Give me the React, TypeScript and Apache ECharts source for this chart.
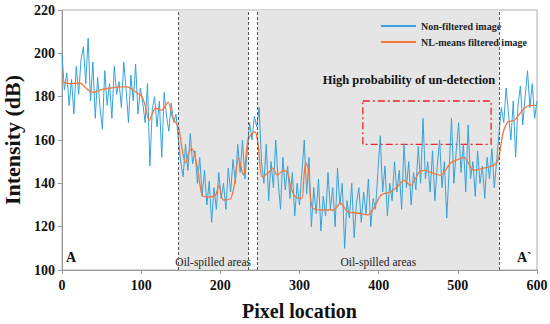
import React, { useEffect, useRef } from "react";
import * as echarts from "echarts";

const nonFiltered: [number, number][] = [
  [0, 200], [3, 183], [6, 191], [9, 176], [12, 188], [15, 172], [18, 194], [21, 181], [24, 197], [27, 203],
  [30, 186], [33, 207], [36, 178], [39, 196], [42, 170], [45, 189], [48, 175], [51, 165], [54, 192], [57, 176],
  [60, 186], [63, 170], [66, 194], [69, 181], [72, 187], [75, 175], [78, 196], [81, 183], [84, 168], [87, 190],
  [90, 178], [93, 195], [96, 172], [99, 184], [102, 177], [105, 168], [108, 186], [111, 148], [114, 174], [117, 180],
  [120, 166], [123, 178], [126, 152], [129, 182], [132, 171], [135, 164], [138, 177], [141, 168], [144, 172], [147, 160],
  [150, 150], [153, 143], [156, 158], [159, 146], [162, 163], [165, 149], [168, 155], [171, 140], [174, 152], [177, 134],
  [180, 146], [183, 130], [186, 141], [189, 122], [192, 138], [195, 128], [198, 145], [201, 133], [204, 140], [207, 128],
  [210, 147], [213, 136], [216, 151], [219, 140], [222, 158], [225, 145], [228, 160], [231, 142], [234, 155], [237, 168],
  [240, 160], [243, 171], [246, 166], [249, 175], [252, 150], [255, 140], [258, 158], [261, 132], [264, 150], [267, 138],
  [270, 160], [273, 141], [276, 128], [279, 152], [282, 137], [285, 148], [288, 133], [291, 145], [294, 125], [297, 140],
  [300, 130], [303, 145], [306, 160], [309, 135], [312, 152], [315, 120], [318, 138], [321, 126], [324, 142], [327, 118],
  [330, 134], [333, 125], [336, 145], [339, 128], [342, 138], [345, 120], [348, 147], [351, 130], [354, 140], [357, 110],
  [360, 132], [363, 124], [366, 140], [369, 115], [372, 131], [375, 138], [378, 122], [381, 136], [384, 126], [387, 142],
  [390, 120], [393, 133], [396, 128], [399, 145], [402, 162], [405, 136], [408, 148], [411, 125], [414, 140], [417, 132],
  [420, 150], [423, 136], [426, 146], [429, 128], [432, 158], [435, 138], [438, 150], [441, 130], [444, 145], [447, 137],
  [450, 157], [453, 140], [456, 170], [459, 142], [462, 150], [465, 136], [468, 155], [471, 132], [474, 148], [477, 160],
  [480, 138], [483, 150], [486, 124], [489, 146], [492, 170], [495, 140], [498, 155], [501, 168], [504, 145], [507, 158],
  [510, 136], [513, 167], [516, 142], [519, 150], [522, 134], [525, 155], [528, 140], [531, 148], [534, 133], [537, 152],
  [540, 142], [543, 156], [546, 138], [549, 150], [552, 163], [555, 175], [558, 168], [561, 184], [564, 172], [567, 160],
  [570, 178], [573, 152], [576, 176], [579, 185], [582, 167], [585, 180], [588, 192], [591, 175], [594, 186], [597, 170],
  [600, 178],
];

const nlMeansFiltered: [number, number][] = [
  [0, 187], [10, 186], [23, 186.3], [30, 184], [39, 182], [52, 183.5], [62, 184], [73, 184.5], [82, 184.5], [95, 181.7],
  [101, 180], [105, 176], [110, 169], [114, 172], [118, 174.7], [126, 173.8], [134, 177.5], [140, 170], [147, 166], [152, 155],
  [156, 149.4], [160, 154], [164, 156], [171, 147.5], [177, 134.6], [185, 133.7], [194, 134.6], [198, 139], [204, 132.3], [213, 133],
  [218, 140], [223, 151.7], [229, 143.8], [235, 160], [240, 163], [244, 163.7], [248, 156.8], [253, 143], [261, 145], [266, 147],
  [272, 143.8], [280, 146], [285, 144.8], [289, 138.3], [294, 134], [299, 133.2], [303, 133], [306, 145], [308, 149.4], [311, 147],
  [316, 129], [327, 127.7], [343, 127.7], [352, 130.9], [361, 126.8], [373, 126.3], [386, 125.4], [394, 128.6], [403, 134.6], [415, 136],
  [425, 139], [432, 141.5], [440, 139], [451, 145], [458, 146], [466, 145], [478, 143.8], [491, 149.4], [500, 151], [508, 152],
  [520, 146], [533, 147], [546, 148.5], [551, 150.8], [557, 163], [563, 168.3], [571, 169], [578, 172], [584, 174.7], [592, 176],
  [599, 176],
];

const oilAreas: [number, number][] = [[147, 235], [247, 552]];
const undetectionBox = { x: [380, 542], y: [158, 178] };
const xTicks = [0, 100, 200, 300, 400, 500, 600];
const yTicks = [100, 120, 140, 160, 180, 200, 220];

const SERIF = "Liberation Serif";

export default function App() {
  const ref = useRef<HTMLDivElement>(null);
  useEffect(() => {
    document.body.style.margin = "0";
    if (!ref.current) return;
    const chart = echarts.init(ref.current, undefined, { renderer: "svg" });
    const boundaries: number[] = [];
    oilAreas.forEach(([a, b]) => boundaries.push(a, b));
    chart.setOption({
      animation: false,
      textStyle: { fontFamily: SERIF },
      grid: {
        left: 62, right: 13, top: 10, bottom: 54,
        show: true, borderColor: "#aaaaaa", borderWidth: 1,
        containLabel: false, outerBoundsMode: "none",
      },
      legend: {
        left: 376,
        top: 16,
        orient: "vertical",
        itemWidth: 35,
        itemHeight: 2,
        itemGap: 6,
        icon: "rect",
        textStyle: { fontFamily: SERIF, fontWeight: "bold", fontSize: 10, color: "#222" },
        data: ["Non-filtered image", "NL-means filtered image"],
      },
      xAxis: {
        type: "value",
        min: xTicks[0],
        max: xTicks[xTicks.length - 1],
        interval: 100,
        name: "Pixel location",
        nameLocation: "middle",
        nameGap: 31,
        nameTextStyle: { fontFamily: SERIF, fontWeight: "bold", fontSize: 20, color: "#111" },
        axisLine: { show: true, lineStyle: { color: "#999" } },
        axisTick: { show: true, length: 4, lineStyle: { color: "#999" } },
        axisLabel: { fontFamily: SERIF, fontWeight: "bold", fontSize: 14, color: "#111", margin: 8 },
        splitLine: { show: false },
      },
      yAxis: {
        type: "value",
        min: yTicks[0],
        max: yTicks[yTicks.length - 1],
        interval: 20,
        name: "Intensity (dB)",
        nameLocation: "middle",
        nameGap: 30,
        nameTextStyle: { fontFamily: SERIF, fontWeight: "bold", fontSize: 22, color: "#111" },
        axisLine: { show: true, lineStyle: { color: "#999" } },
        axisTick: { show: true, length: 4, lineStyle: { color: "#999" } },
        axisLabel: { fontFamily: SERIF, fontWeight: "bold", fontSize: 14, color: "#111", margin: 7 },
        splitLine: { show: false },
      },
      series: [
        {
          name: "areas",
          type: "line",
          data: [],
          z: 1,
          silent: true,
          markArea: {
            silent: true,
            itemStyle: { color: "#e5e5e5" },
            label: {
              show: true,
              position: "insideBottom",
              distance: 2,
              fontFamily: SERIF,
              fontSize: 11.5,
              color: "#222",
            },
            data: oilAreas.map(([a, b]) => [{ xAxis: a, name: "Oil-spilled areas" }, { xAxis: b }]),
          },
          markLine: {
            silent: true,
            symbol: "none",
            label: { show: false },
            lineStyle: { color: "#555", type: [3, 2], width: 1 },
            data: boundaries.map((v) => ({ xAxis: v })),
          },
        },
        {
          name: "Non-filtered image",
          type: "line",
          data: nonFiltered,
          showSymbol: false,
          z: 3,
          lineStyle: { color: "#35a2db", width: 1 },
          itemStyle: { color: "#35a2db" },
        },
        {
          name: "NL-means filtered image",
          type: "line",
          data: nlMeansFiltered,
          showSymbol: false,
          smooth: 0.3,
          z: 4,
          lineStyle: { color: "#f5773a", width: 1.3 },
          itemStyle: { color: "#f5773a" },
        },
        {
          name: "box",
          type: "line",
          data: [],
          z: 5,
          markArea: {
            silent: true,
            itemStyle: {
              color: "rgba(0,0,0,0)",
              borderColor: "#e8252a",
              borderWidth: 1.3,
              borderType: [7, 3, 2, 3],
            },
            label: {
              show: true,
              position: "top",
              distance: 14,
              offset: [-18, 0],
              fontFamily: SERIF,
              fontWeight: "bold",
              fontSize: 12.5,
              color: "#111",
            },
            data: [[
              { xAxis: undetectionBox.x[0], yAxis: undetectionBox.y[1], name: "High probability of un-detection" },
              { xAxis: undetectionBox.x[1], yAxis: undetectionBox.y[0] },
            ]],
          },
        },
      ],
      graphic: [
        { type: "text", left: 66, top: 250, style: { text: "A", font: `bold 14px ${SERIF}`, fill: "#111" } },
        { type: "text", left: 517, top: 250, style: { text: "A`", font: `bold 14px ${SERIF}`, fill: "#111" } },
      ],
    });
    return () => chart.dispose();
  }, []);
  return <div ref={ref} style={{ width: 550, height: 324 }} />;
}
